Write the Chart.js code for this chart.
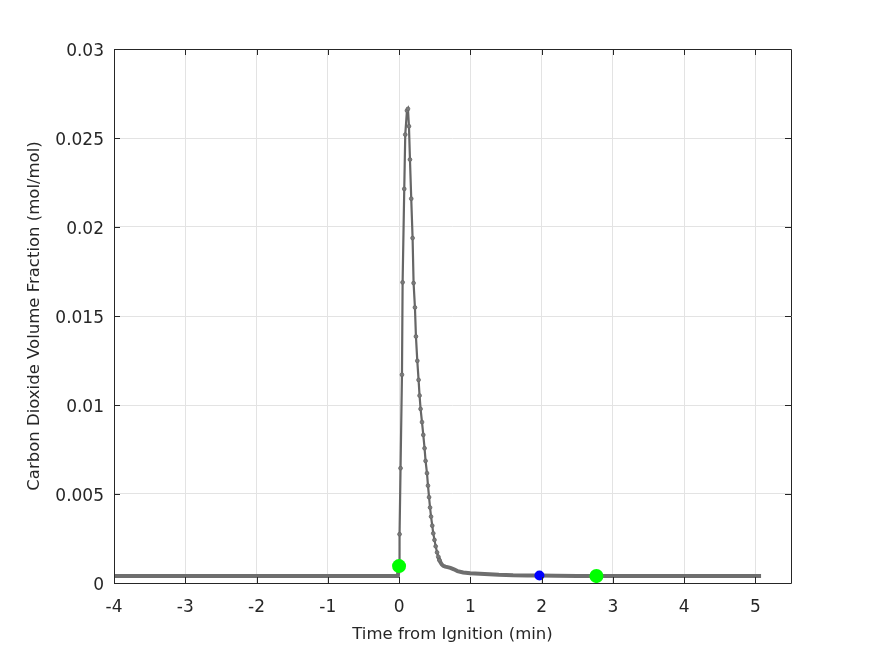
<!DOCTYPE html>
<html><head><meta charset="utf-8">
<script src="https://cdn.jsdelivr.net/npm/chart.js@4/dist/chart.umd.min.js"></script>
<style>html,body{margin:0;padding:0;background:#fff}#wrap{width:875px;height:656px}</style>
</head><body><div id="wrap"><canvas id="c" width="875" height="656"></canvas></div>
<script>
// Time from ignition (min)
const timeMin = [
  -4.0, -3.5, -3.0, -2.5, -2.0, -1.5, -1.0, -0.5, -0.1, -0.017,
  0.0, 0.007, 0.021, 0.041, 0.050, 0.073, 0.087, 0.111, 0.125, 0.139,
  0.153, 0.171, 0.190, 0.204, 0.223, 0.237, 0.256, 0.274, 0.288, 0.302,
  0.322, 0.340, 0.358, 0.372, 0.392, 0.406, 0.421, 0.435, 0.449, 0.466,
  0.480, 0.497, 0.514, 0.533, 0.550, 0.567, 0.585, 0.600, 0.620, 0.649,
  0.680, 0.720, 0.770, 0.820, 0.900, 1.000, 1.200, 1.400, 1.600, 1.800,
  1.970, 2.200, 2.500, 2.770, 3.000, 3.500, 4.000, 4.500, 5.080
];
// Carbon dioxide volume fraction (mol/mol)
const co2Frac = [
  0.00039, 0.00039, 0.00039, 0.00039, 0.00039, 0.00039, 0.00039, 0.00039, 0.00039, 0.00039,
  0.00095, 0.00274, 0.00645, 0.01170, 0.01689, 0.02214, 0.02519, 0.02654, 0.02664, 0.02566,
  0.02379, 0.02159, 0.01938, 0.01685, 0.01548, 0.01385, 0.01248, 0.01141, 0.01053, 0.00978,
  0.00904, 0.00832, 0.00757, 0.00686, 0.00617, 0.00547, 0.00482, 0.00424, 0.00373, 0.00322,
  0.00279, 0.00242, 0.00206, 0.00172, 0.00148, 0.00128, 0.00114, 0.00104, 0.00097, 0.00092,
  0.00089, 0.00085, 0.00077, 0.00067, 0.00059, 0.00055, 0.00051, 0.00046, 0.00043, 0.00042,
  0.00042, 0.00041, 0.00040, 0.00039, 0.00039, 0.00039, 0.00039, 0.00039, 0.00039
];
// Highlighted events
const greenTimes = [0.0, 2.77];
const greenValues = [0.00095, 0.00039];
const blueTimes = [1.97];
const blueValues = [0.00042];

const xTicks = [-4, -3, -2, -1, 0, 1, 2, 3, 4, 5];
const xTickLabels = ['-4', '-3', '-2', '-1', '0', '1', '2', '3', '4', '5'];
const yTicks = [0, 0.005, 0.01, 0.015, 0.02, 0.025, 0.03];
const yTickLabels = ['0', '0.005', '0.01', '0.015', '0.02', '0.025', '0.03'];

const xTitle = 'Time from Ignition (min)';
const yTitle = 'Carbon Dioxide Volume Fraction (mol/mol)';

const toXY = (xs, ys) => xs.map((x, i) => ({x: x, y: ys[i]}));
const FONT = "'DejaVu Sans', 'Liberation Sans', Arial, sans-serif";
const AXIS_COLOR = '#262626';

const boxPlugin = {
  id: 'boxTicks',
  afterDraw(chart) {
    const ctx = chart.ctx;
    const a = chart.chartArea;
    const xs = chart.scales.x, ys = chart.scales.y;
    const tl = 6;
    ctx.save();
    ctx.strokeStyle = AXIS_COLOR;
    ctx.lineWidth = 1;
    ctx.beginPath();
    ctx.rect(Math.round(a.left) + 0.5, Math.round(a.top) + 0.5,
             Math.round(a.right) - Math.round(a.left), Math.round(a.bottom) - Math.round(a.top));
    xTicks.forEach(v => {
      const px = Math.round(xs.getPixelForValue(v)) + 0.5;
      ctx.moveTo(px, a.bottom); ctx.lineTo(px, a.bottom - tl);
      ctx.moveTo(px, a.top); ctx.lineTo(px, a.top + tl);
    });
    yTicks.forEach(v => {
      const py = Math.round(ys.getPixelForValue(v)) + 0.5;
      ctx.moveTo(a.left, py); ctx.lineTo(a.left + tl, py);
      ctx.moveTo(a.right, py); ctx.lineTo(a.right - tl, py);
    });
    ctx.stroke();
    ctx.restore();
  }
};

new Chart(document.getElementById('c'), {
  type: 'line',
  data: {
    datasets: [
      {
        label: 'green', data: toXY(greenTimes, greenValues), showLine: false,
        pointRadius: 7, pointBackgroundColor: '#00ff00', pointBorderColor: '#00ff00',
        pointBorderWidth: 0, order: 0
      },
      {
        label: 'blue', data: toXY(blueTimes, blueValues), showLine: false,
        pointRadius: 5, pointBackgroundColor: '#0000ff', pointBorderColor: '#0000ff',
        pointBorderWidth: 0, order: 0
      },
      {
        label: 'CO2', data: toXY(timeMin, co2Frac), order: 1,
        borderColor: '#666666', borderWidth: 2, tension: 0, fill: false,
        pointRadius: c => (c.raw && c.raw.y > 0.0012) ? 1.9 : 0,
        pointBackgroundColor: '#7a7a7a', pointBorderColor: '#666666', pointBorderWidth: 0.8,
        segment: {
          borderWidth: c => (c.p0.parsed.y < 0.0015 && c.p1.parsed.y < 0.0015) ? 4 : 2.2,
          borderColor: c => (c.p0.parsed.y < 0.0015 && c.p1.parsed.y < 0.0015) ? '#6e6e6e' : '#666666'
        }
      }
    ]
  },
  options: {
    responsive: false, animation: false, devicePixelRatio: 1,
    layout: {padding: {left: 0, right: 84, top: 49, bottom: 0}},
    plugins: {legend: {display: false}, tooltip: {enabled: false}},
    scales: {
      x: {
        type: 'linear', min: -4, max: 5.5,
        afterFit: s => { s.height = 73; },
        afterBuildTicks: s => { s.ticks = xTicks.map(v => ({value: v})); },
        ticks: {
          callback: (v, i) => xTickLabels[i], color: AXIS_COLOR, padding: 14,
          font: {family: FONT, size: 17}, maxRotation: 0, autoSkip: false
        },
        grid: {color: '#e3e3e3', lineWidth: 1, drawTicks: false},
        border: {display: false},
        title: {display: true, text: xTitle, color: AXIS_COLOR,
                font: {family: FONT, size: 16.5}, padding: {top: 0, bottom: 11}}
      },
      y: {
        type: 'linear', min: 0, max: 0.03,
        afterFit: s => { s.width = 114; },
        afterBuildTicks: s => { s.ticks = yTicks.map(v => ({value: v})); },
        ticks: {
          callback: (v, i) => yTickLabels[i], color: AXIS_COLOR, padding: 10,
          font: {family: FONT, size: 17}, autoSkip: false, labelOffset: 2.5
        },
        grid: {color: '#e3e3e3', lineWidth: 1, drawTicks: false},
        border: {display: false},
        title: {display: true, text: yTitle, color: AXIS_COLOR,
                font: {family: FONT, size: 16.5}, padding: {top: 25, bottom: 0}}
      }
    }
  },
  plugins: [boxPlugin]
});
</script>
</body></html>
